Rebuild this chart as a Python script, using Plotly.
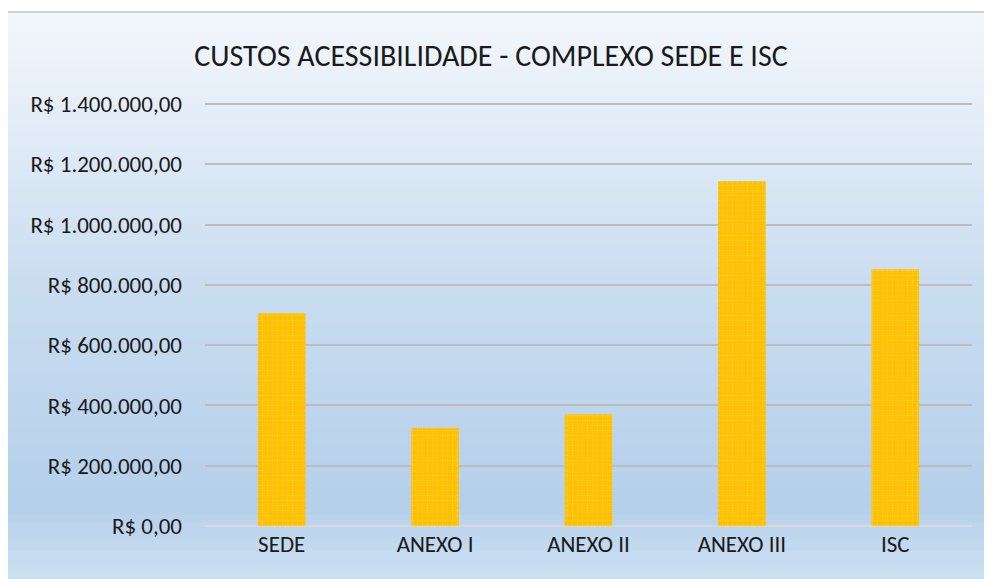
import plotly.graph_objects as go

categories = ["SEDE", "ANEXO I", "ANEXO II", "ANEXO III", "ISC"]
values = [706000, 325000, 371000, 1144000, 852000]
tick_vals = [0, 200000, 400000, 600000, 800000, 1000000, 1200000, 1400000]
tick_text = ["R$ 0,00", "R$ 200.000,00", "R$ 400.000,00", "R$ 600.000,00",
             "R$ 800.000,00", "R$ 1.000.000,00", "R$ 1.200.000,00", "R$ 1.400.000,00"]
title = "CUSTOS ACESSIBILIDADE - COMPLEXO SEDE E ISC"

OFF = 8  # page body margin
W, H = 992, 579
y_top_val = 1420000
px_per_val = (526 - 104) / 1400000
top_px = 526 - y_top_val * px_per_val
L = 205 - OFF
R = W - (972 - OFF)
T = top_px - OFF
B = H - (526 - OFF)
PW, PH = W - L - R, H - T - B

def px_to_paper_x(px):
    return (px - OFF - L) / PW

def py_to_paper_y(py):
    return (H - B - (py - OFF)) / PH

stops = [(0.0, (243, 247, 252)), (0.5, (200, 220, 240)), (0.87, (181, 208, 234)), (1.0, (205, 224, 242))]

def color_at(t):
    for i in range(len(stops) - 1):
        t0, c0 = stops[i]
        t1, c1 = stops[i + 1]
        if t0 <= t <= t1:
            f = (t - t0) / (t1 - t0)
            c = [round(c0[k] + (c1[k] - c0[k]) * f) for k in range(3)]
            return "rgb(%d,%d,%d)" % tuple(c)
    return "rgb(%d,%d,%d)" % stops[-1][1]

shapes = []
g_top, g_bot = 12, 579
n = 80
step = (g_bot - g_top) / n
for i in range(n):
    y0 = g_top + i * step
    y1 = y0 + step + 1
    t = (i + 0.5) / n
    shapes.append(dict(type="rect", xref="paper", yref="paper",
                       x0=px_to_paper_x(7), x1=px_to_paper_x(1000),
                       y0=py_to_paper_y(y1), y1=py_to_paper_y(y0),
                       line=dict(width=0), fillcolor=color_at(t), layer="below"))
shapes.append(dict(type="rect", xref="paper", yref="paper",
                   x0=px_to_paper_x(7), x1=px_to_paper_x(1010),
                   y0=py_to_paper_y(600), y1=py_to_paper_y(12),
                   line=dict(width=2, color="#d0d0d0"), fillcolor="rgba(0,0,0,0)", layer="above"))

fig = go.Figure()
fig.add_trace(go.Bar(
    x=categories, y=values, width=0.31,
    marker=dict(color="#FFC000", line=dict(width=0),
                pattern=dict(shape="+", bgcolor="#FFC000", fgcolor="#FFDA70", size=5, solidity=0.2)),
))

font_family = "Carlito, Calibri, Lato, 'Open Sans', sans-serif"
fig.update_layout(
    width=W, height=H,
    margin=dict(l=L, r=R, t=T, b=B, autoexpand=False),
    paper_bgcolor="white", plot_bgcolor="rgba(0,0,0,0)",
    shapes=shapes,
    showlegend=False,
    title=dict(text=title, x=(491 - OFF) / W, xanchor="center", y=1 - (55 - OFF) / H, yanchor="middle",
               font=dict(family=font_family, size=30, color="#1a1a1a")),
    font=dict(family=font_family, size=23, color="#1a1a1a"),
)
fig.update_yaxes(range=[0, y_top_val], tickvals=tick_vals, ticktext=tick_text,
                 showgrid=True, gridcolor="#bdbdbd", gridwidth=1.5,
                 zeroline=True, zerolinecolor="#d9d9d9", zerolinewidth=2,
                 ticks="", ticklabelstandoff=22, showline=False,
                 tickfont=dict(size=23, color="#1a1a1a"))
fig.update_xaxes(showgrid=False, ticks="", showline=False,
                 tickfont=dict(size=23, color="#1a1a1a"), ticklabelstandoff=2)

fig.write_html("out.html")
